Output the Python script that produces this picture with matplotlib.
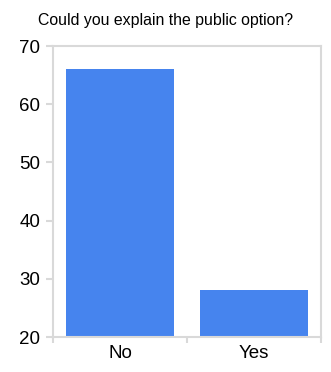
import matplotlib
matplotlib.use("Agg")
import matplotlib.pyplot as plt

plt.rcParams['font.family'] = ['Liberation Sans', 'DejaVu Sans']

categories = ['No', 'Yes']
values = [66, 28]
yticks = [20, 30, 40, 50, 60, 70]

fig = plt.figure(figsize=(3.31, 3.72), dpi=100)
ax = fig.add_axes([0.160, 0.094, 0.810, 0.782])

x = range(len(categories))
ax.bar(x, values, width=0.806, color='#4684ee', bottom=0, zorder=2)

ax.set_ylim(20, 70)
ax.set_xlim(-0.5, 1.5)
ax.set_yticks(yticks)
ax.set_yticklabels([str(v) for v in yticks], fontsize=13.5)

# category labels centred, tick marks on boundaries
ax.set_xticks([0, 1])
ax.set_xticklabels(categories, fontsize=13.5)
ax.tick_params(axis='x', length=0, pad=6)
ax.set_xticks([-0.5, 0.5, 1.5], minor=True)
ax.tick_params(axis='x', which='minor', length=4, color='#d9d9d9', width=1.5)
ax.tick_params(axis='y', length=5, color='#d9d9d9', width=1.5, pad=4)

for s in ax.spines.values():
    s.set_color('#d9d9d9')
    s.set_linewidth(1.5)

fig.text(0.5, 0.945, 'Could you explain the public option?', ha='center', va='center', fontsize=11.4)

fig.savefig('out.png', dpi=100)
